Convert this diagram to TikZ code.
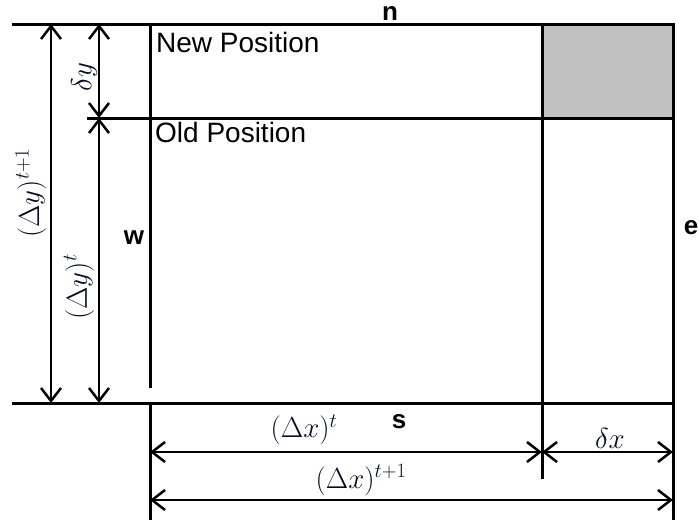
\RequirePackage{fix-cm}
\documentclass[tikz,border=0pt]{standalone}
\usepackage{fontspec}
\setsansfont{Liberation Sans}
\usetikzlibrary{arrows.meta}
\definecolor{mathc}{RGB}{8,12,36}
\definecolor{cellgray}{RGB}{192,192,192}
\tikzset{
  wall/.style={line width=3pt, line cap=rect},
  dim/.style={line width=2.5pt, {Straight Barb[length=13pt,width=20pt,line width=2.5pt]}-{Straight Barb[length=13pt,width=20pt,line width=2.5pt]}},
  mlab/.style={text=mathc, font=\fontsize{29}{34}\selectfont, inner sep=0pt},
  slab/.style={font=\sffamily\fontsize{28}{32}\selectfont, inner sep=0pt},
  blab/.style={font=\sffamily\bfseries\fontsize{26}{30}\selectfont, inner sep=0pt}
}
\begin{document}
\begin{tikzpicture}[x=1pt,y=-1pt]
\useasboundingbox (0,0) rectangle (699,525);
% coordinates
\coordinate (tl) at (13,24);
\coordinate (tr) at (673,24);
\coordinate (bl) at (13,403);
\coordinate (br) at (673,403);
\coordinate (ol) at (88,118);
\coordinate (or) at (673,118);
\coordinate (wt) at (150,24);
\coordinate (wm) at (150,386);
\coordinate (wm2) at (150,403);
\coordinate (wb) at (150,518);
\coordinate (mt) at (542,24);
\coordinate (mo) at (542,118);
\coordinate (mb) at (542,477);
\coordinate (et) at (673,24);
\coordinate (eb) at (673,518);
% gray cell
\fill[cellgray] (mt) rectangle (or);
% walls
\draw[wall] (tl) -- (tr);
\draw[wall] (ol) -- (or);
\draw[wall] (bl) -- (br);
\draw[wall] (wt) -- (wm);
\draw[wall] (wm2) -- (wb);
\draw[wall] (mt) -- (mb);
\draw[wall] (et) -- (eb);
% dimension arrow endpoints
\coordinate (a1t) at (51,24);
\coordinate (a1b) at (51,403);
\coordinate (a2t) at (99,24);
\coordinate (a2m) at (99,118);
\coordinate (a2b) at (99,403);
\coordinate (h1l) at (150,452);
\coordinate (h1m) at (542,452);
\coordinate (h1r) at (673,452);
\coordinate (h2l) at (150,500);
\coordinate (h2r) at (673,500);
\draw[dim] (a1t) -- (a1b);
\draw[dim] (a2t) -- (a2m);
\draw[dim] (a2m) -- (a2b);
\draw[dim] (h1l) -- (h1m);
\draw[dim] (h1m) -- (h1r);
\draw[dim] (h2l) -- (h2r);
% labels
\node[mlab, rotate=90] (ly1) at (31,193) {$(\Delta y)^{t+1}$};
\node[mlab, rotate=90] (ly0) at (79,287) {$(\Delta y)^{t}$};
\node[mlab, rotate=90] (ldy) at (84,77) {$\delta y$};
\node[mlab] (lx0) at (304,430) {$(\Delta x)^{t}$};
\node[mlab] (lx1) at (361,480) {$(\Delta x)^{t+1}$};
\node[mlab] (ldx) at (610,438) {$\delta x$};
\node[slab, anchor=base west] (newp) at (156,52) {New Position};
\node[slab, anchor=base west] (oldp) at (155,142) {Old Position};
\node[blab] (n) at (390,13) {n};
\node[blab] (s) at (399,422) {s};
\node[blab] (w) at (134,238) {w};
\node[blab] (e) at (691,228) {e};
\end{tikzpicture}
\end{document}
